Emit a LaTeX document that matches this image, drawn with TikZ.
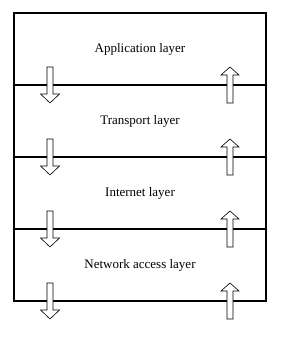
\documentclass[tikz,border=0pt]{standalone}
\usepackage{fontspec}
\setmainfont{Liberation Serif}
\usetikzlibrary{positioning}

\begin{document}
\begin{tikzpicture}[x=1pt, y=1pt,
  layer/.style={draw, line width=1.6pt, minimum width=252pt, minimum height=72pt,
    inner sep=0pt, outer sep=0pt, font=\fontsize{13}{15}\selectfont},
  sendarrow/.pic={\draw[line width=0.6pt, fill=white]
    (-3,18) -- (-3,-9) -- (-9.5,-9) -- (0,-18) -- (9.5,-9) -- (3,-9) -- (3,18) -- cycle;},
  recvarrow/.pic={\draw[line width=0.6pt, fill=white]
    (-3,-18) -- (-3,10) -- (-9,10) -- (0,18) -- (9,10) -- (3,10) -- (3,-18) -- cycle;}]
\useasboundingbox (0,0) rectangle (286,337);
\node[layer] (app) at (140,288) {Application layer};
\node[layer, below=0pt of app] (trans) {Transport layer};
\node[layer, below=0pt of trans] (inet) {Internet layer};
\node[layer, below=0pt of inet] (net) {Network access layer};
% arrows across each boundary
\foreach \l in {app,trans,inet,net} {
  \pic at ([xshift=36pt]\l.south west) {sendarrow};
  \pic at ([xshift=-36pt]\l.south east) {recvarrow};
}
\end{tikzpicture}
\end{document}
